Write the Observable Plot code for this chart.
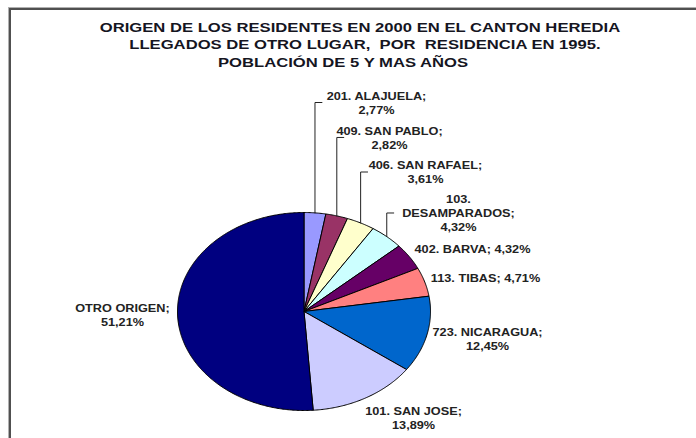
<!DOCTYPE html>
<html><head><meta charset="utf-8">
<script src="https://cdn.jsdelivr.net/npm/d3@7"></script>
<script src="https://cdn.jsdelivr.net/npm/@observablehq/plot@0.6"></script>
<style>
html,body{margin:0;padding:0;background:#fff;width:696px;height:438px;overflow:hidden;}
#wrap{position:relative;width:696px;height:438px;}
#frame{position:absolute;left:9px;top:8px;width:800px;height:600px;border-left:2px solid #505050;border-top:2px solid #505050;box-shadow:-1px -1px 0 #b0b0b0;z-index:5;pointer-events:none;}
#title{position:relative;height:75px;font-family:"Liberation Sans",Arial,sans-serif;font-weight:bold;font-size:12.5px;color:#15151f;}
.tl{position:absolute;white-space:pre;line-height:17.3px;transform:translateX(-50%) scaleX(1.33);}
#chart{position:absolute;left:0;top:75px;}
</style></head>
<body><div id="wrap"><div id="frame"></div><div id="title"></div><div id="chart"></div></div>
<script>
// ---- data ----
const titleLines = [
  "ORIGEN DE LOS RESIDENTES EN 2000 EN EL CANTON HEREDIA",
  "LLEGADOS DE OTRO LUGAR,  POR  RESIDENCIA EN 1995.",
  "POBLACIÓN DE 5 Y MAS AÑOS"
];
const categories = ["201. ALAJUELA","409. SAN PABLO","406. SAN RAFAEL","103. DESAMPARADOS","402. BARVA","113. TIBAS","723. NICARAGUA","101. SAN JOSE","OTRO ORIGEN"];
const values = [2.77, 2.82, 3.61, 4.32, 4.32, 4.71, 12.45, 13.89, 51.21];

// ---- styles / layout ----
const palette = ["#9999FF","#993366","#FFFFCC","#CCFFFF","#660066","#FF8080","#0066CC","#CCCCFF","#000080"];
const titleCenters = [360, 365, 342.5];
const titleTop = 20, titleLH = 17.3;
// label block centres in pie-radius units; lines: 1 = one line, 2 = name/value, 3 = code/name/value
const labelLayout = [
  {x:0.573, y:2.111, lines:2, leader:true},
  {x:0.676, y:1.758, lines:2, leader:true},
  {x:0.960, y:1.409, lines:2, leader:true},
  {x:1.221, y:0.995, lines:3, leader:true},
  {x:1.332, y:0.636, lines:1, leader:false},
  {x:1.435, y:0.343, lines:1, leader:false},
  {x:1.451, y:-0.268, lines:2, leader:false},
  {x:0.866, y:-1.071, lines:2, leader:false},
  {x:-1.435, y:-0.035, lines:2, leader:false}
];
const labelStretch = 1.27;

// ---- title ----
const tdiv = document.getElementById("title");
titleLines.forEach((t, i) => {
  const d = document.createElement("div");
  d.className = "tl";
  d.textContent = t;
  d.style.left = titleCenters[i] + "px";
  d.style.top = (titleTop + i * titleLH) + "px";
  tdiv.appendChild(d);
});

// ---- pie geometry ----
const arcs = d3.pie().sort(null)(values);
const slicePts = [];
arcs.forEach((a, i) => {
  const name = categories[i];
  slicePts.push({name, x: 0, y: 0});
  const n = Math.max(2, Math.ceil((a.endAngle - a.startAngle) / 0.01));
  for (let k = 0; k <= n; k++) {
    const t = a.startAngle + (a.endAngle - a.startAngle) * k / n;
    slicePts.push({name, x: Math.sin(t), y: Math.cos(t)});
  }
  slicePts.push({name, x: 0, y: 0});
});

const fmt = v => v.toFixed(2).replace(".", ",") + "%";
const labels = arcs.map((a, i) => {
  const L = labelLayout[i], name = categories[i], pct = fmt(values[i]);
  let text;
  if (L.lines === 1) text = `${name}; ${pct}`;
  else if (L.lines === 3) { const s = name.indexOf(" "); text = `${name.slice(0, s)}\n${name.slice(s + 1)};\n${pct}`; }
  else text = `${name};\n${pct}`;
  return {x: L.x, y: L.y, text};
});

const leaderPts = [];
arcs.forEach((a, i) => {
  const L = labelLayout[i];
  if (!L.leader) return;
  const m = (a.startAngle + a.endAngle) / 2;
  const ex = Math.sin(m), ey = Math.cos(m);
  leaderPts.push({id: i, x: ex, y: ey}, {id: i, x: ex, y: L.y}, {id: i, x: ex + 0.055, y: L.y});
});

const font = "Liberation Sans, Arial, sans-serif";
const chart = Plot.plot({
  width: 696, height: 363,
  marginLeft: 177, marginRight: 266, marginTop: 137, marginBottom: 28,
  x: {domain: [-1, 1], axis: null},
  y: {domain: [-1, 1], axis: null},
  color: {domain: categories, range: palette},
  style: {background: "transparent", overflow: "visible"},
  marks: [
    Plot.line(slicePts, {x: "x", y: "y", z: "name", fill: "name", stroke: "#000", strokeWidth: 1, strokeLinejoin: "round", curve: "linear"}),
    Plot.line(leaderPts, {x: "x", y: "y", z: "id", stroke: "#222", strokeWidth: 1, curve: "linear"}),
    Plot.text(labels, {x: "x", y: "y", text: "text", fontSize: 10, fontWeight: "bold", fill: "#222", lineHeight: 1.4, fontFamily: font})
  ]
});
document.getElementById("chart").appendChild(chart);

// widen label glyphs horizontally to match the stretched original
chart.querySelectorAll('g[aria-label="text"] text').forEach(t => {
  const tr = t.getAttribute("transform");
  if (tr) t.setAttribute("transform", tr + ` scale(${labelStretch},1)`);
  else {
    const x = +t.getAttribute("x") || 0, y = +t.getAttribute("y") || 0;
    t.setAttribute("transform", `translate(${x},${y}) scale(${labelStretch},1) translate(${-x},${-y})`);
  }
});
</script>
</body></html>
